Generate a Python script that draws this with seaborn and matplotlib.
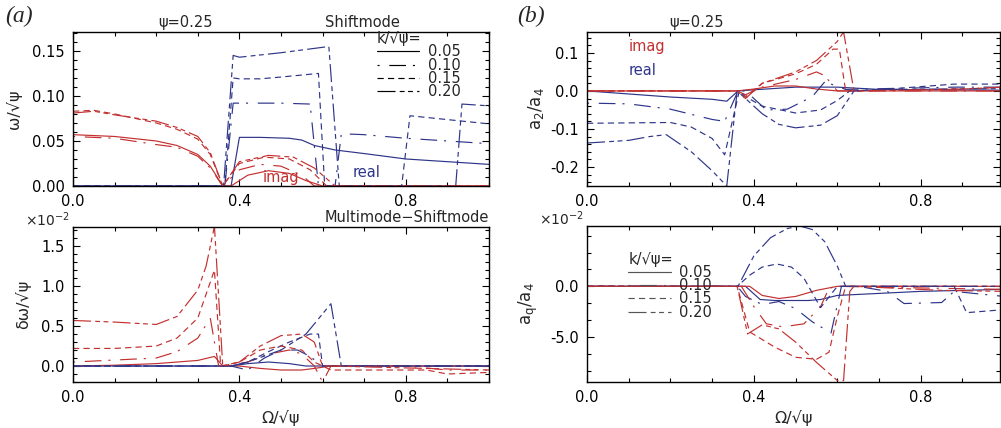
import numpy as np
import pandas as pd
import matplotlib
matplotlib.use("Agg")
import matplotlib.pyplot as plt
from matplotlib.lines import Line2D
from matplotlib.ticker import MultipleLocator, FormatStrFormatter, FixedLocator
import seaborn as sns

sns.set_theme(style="ticks")
plt.rcParams['font.family'] = ['DejaVu Sans']
plt.rcParams['mathtext.fontset'] = 'dejavusans'
plt.rcParams['lines.scale_dashes'] = False
plt.rcParams['axes.unicode_minus'] = True

# ---------------- data ----------------
K_LABELS = ["0.05", "0.10", "0.15", "0.20"]

# (a) top: omega/sqrt(psi)
om_imag = {
    "0.05": ([0, 0.1, 0.2, 0.25, 0.3, 0.33, 0.36, 0.38, 0.42, 0.47, 0.52, 0.56, 0.6, 1.0],
             [0.057, 0.055, 0.050, 0.045, 0.035, 0.022, 0, 0, 0.012, 0.017, 0.014, 0.006, 0, 0]),
    "0.10": ([0, 0.1, 0.2, 0.25, 0.3, 0.33, 0.36, 0.40, 0.45, 0.5, 0.55, 0.58, 1.0],
             [0.055, 0.053, 0.046, 0.043, 0.033, 0.020, 0, 0.018, 0.024, 0.022, 0.012, 0, 0]),
    "0.15": ([0, 0.05, 0.1, 0.2, 0.25, 0.3, 0.33, 0.36, 0.40, 0.46, 0.52, 0.57, 0.61, 1.0],
             [0.083, 0.084, 0.080, 0.070, 0.063, 0.052, 0.035, 0, 0.025, 0.032, 0.030, 0.018, 0, 0]),
    "0.20": ([0, 0.05, 0.1, 0.2, 0.25, 0.3, 0.33, 0.36, 0.40, 0.47, 0.53, 0.58, 0.63, 1.0],
             [0.081, 0.083, 0.079, 0.072, 0.065, 0.055, 0.037, 0, 0.027, 0.034, 0.032, 0.020, 0, 0]),
}
om_real = {
    "0.05": ([0, 0.38, 0.40, 0.45, 0.52, 0.55, 0.58, 0.63, 0.7, 0.8, 0.9, 1.0],
             [0, 0, 0.054, 0.054, 0.053, 0.051, 0.045, 0.040, 0.036, 0.030, 0.027, 0.024]),
    "0.10": ([0, 0.365, 0.385, 0.4, 0.5, 0.57, 0.59, 0.63, 0.645, 0.7, 0.8, 0.9, 1.0],
             [0, 0, 0.092, 0.092, 0.092, 0.091, 0, 0, 0.058, 0.057, 0.053, 0.050, 0.047]),
    "0.15": ([0, 0.365, 0.385, 0.4, 0.45, 0.5, 0.59, 0.605, 0.79, 0.81, 1.0],
             [0, 0, 0.120, 0.119, 0.119, 0.121, 0.125, 0, 0, 0.078, 0.069]),
    "0.20": ([0, 0.362, 0.385, 0.40, 0.5, 0.6, 0.615, 0.64, 0.92, 0.935, 1.0],
             [0, 0, 0.145, 0.143, 0.148, 0.154, 0.155, 0, 0, 0.091, 0.089]),
}

# (a) bottom: delta omega / sqrt(psi)  [x 1e-2]
dw_imag = {
    "0.05": ([0, 0.1, 0.2, 0.3, 0.34, 0.36, 0.4, 0.45, 0.5, 0.55, 0.58, 0.62, 1.0],
             [0, 0.01, 0.03, 0.07, 0.12, 0, 0, -0.03, -0.05, -0.05, -0.03, 0, 0]),
    "0.10": ([0, 0.2, 0.25, 0.3, 0.33, 0.35, 0.37, 0.42, 0.47, 0.52, 0.55, 0.58, 0.6, 0.62, 0.8, 0.9, 1.0],
             [0.05, 0.10, 0.18, 0.35, 0.60, 0, 0, 0.05, 0.15, 0.20, 0.15, 0.0, -0.2, 0, 0, -0.05, -0.05]),
    "0.15": ([0, 0.1, 0.2, 0.25, 0.3, 0.33, 0.34, 0.355, 0.4, 0.45, 0.5, 0.55, 0.58, 0.62, 0.85, 0.9, 1.0],
             [0.22, 0.22, 0.25, 0.35, 0.60, 1.05, 1.20, 0, 0.05, 0.20, 0.25, 0.20, 0.05, -0.05, -0.05, -0.10, -0.08]),
    "0.20": ([0, 0.1, 0.2, 0.25, 0.3, 0.32, 0.34, 0.36, 0.4, 0.45, 0.5, 0.55, 0.58, 0.6, 0.62, 1.0],
             [0.57, 0.55, 0.52, 0.62, 0.95, 1.25, 1.75, 0, 0.05, 0.25, 0.38, 0.40, 0.30, 0, 0, -0.05]),
}
dw_real = {
    "0.05": ([0, 0.38, 0.42, 0.47, 0.52, 0.56, 0.6, 1.0],
             [0, 0, 0.03, 0.05, 0.03, 0.0, 0, 0]),
    "0.10": ([0, 0.38, 0.42, 0.46, 0.5, 0.54, 0.57, 0.6, 1.0],
             [0, 0, -0.05, 0.10, 0.20, 0.20, 0.12, 0, 0]),
    "0.15": ([0, 0.38, 0.42, 0.47, 0.52, 0.57, 0.59, 0.6, 1.0],
             [0, 0, 0.05, 0.18, 0.30, 0.40, 0.40, 0, 0]),
    "0.20": ([0, 0.38, 0.42, 0.5, 0.56, 0.62, 0.645, 1.0],
             [0, 0, 0.05, 0.20, 0.40, 0.78, 0, 0]),
}

# (b) top: a2/a4
a2_imag = {
    "0.05": ([0, 0.36, 0.4, 0.45, 0.5, 0.55, 0.6, 1.0],
             [0, 0, 0.005, 0.013, 0.013, 0.005, 0, 0]),
    "0.10": ([0, 0.36, 0.38, 0.42, 0.5, 0.55, 0.57, 0.6, 1.0],
             [0, 0, -0.01, 0.01, 0.03, 0.05, 0.04, 0, 0]),
    "0.15": ([0, 0.36, 0.38, 0.42, 0.5, 0.55, 0.59, 0.605, 0.62, 0.9, 1.0],
             [0, 0, -0.015, 0.02, 0.045, 0.07, 0.11, 0.11, 0, 0.005, 0.01]),
    "0.20": ([0, 0.36, 0.38, 0.42, 0.5, 0.55, 0.6, 0.615, 0.64, 0.9, 1.0],
             [0, 0, -0.02, 0.02, 0.05, 0.08, 0.13, 0.155, 0, 0.005, 0.01]),
}
a2_real = {
    "0.05": ([0, 0.1, 0.2, 0.3, 0.335, 0.362, 0.4, 0.5, 0.6, 0.7, 1.0],
             [0, -0.008, -0.016, -0.022, -0.027, 0, 0.003, 0.010, 0.010, 0.004, 0.002]),
    "0.10": ([0, 0.1, 0.2, 0.3, 0.33, 0.362, 0.38, 0.43, 0.48, 0.54, 0.57, 0.62, 0.88, 1.0],
             [-0.032, -0.034, -0.048, -0.075, -0.080, 0, 0.0, -0.05, -0.048, -0.015, 0.024, 0.004, 0.010, 0.010]),
    "0.15": ([0, 0.1, 0.2, 0.25, 0.3, 0.33, 0.365, 0.38, 0.42, 0.5, 0.56, 0.6, 0.63, 0.7, 0.88, 1.0],
             [-0.085, -0.084, -0.083, -0.095, -0.125, -0.168, 0, -0.015, -0.04, -0.058, -0.05, -0.025, 0, 0.003, 0.018, 0.018]),
    "0.20": ([0, 0.1, 0.15, 0.19, 0.25, 0.3, 0.335, 0.36, 0.38, 0.42, 0.46, 0.5, 0.56, 0.6, 0.64, 0.7, 1.0],
             [-0.137, -0.130, -0.120, -0.115, -0.160, -0.210, -0.250, 0, -0.02, -0.06, -0.088, -0.097, -0.09, -0.065, 0, 0.004, 0.006]),
}

# (b) bottom: aq/a4  [x 1e-2]
aq_imag = {
    "0.05": ([0, 0.39, 0.42, 0.46, 0.5, 0.55, 0.6, 1.0],
             [0, 0, -0.9, -1.2, -1.0, -0.4, 0, 0]),
    "0.10": ([0, 0.37, 0.4, 0.43, 0.47, 0.52, 0.56, 0.58, 0.6, 0.85, 1.0],
             [0, 0, -2.0, -3.7, -4.0, -3.7, -2.0, -0.2, 0, -0.2, -0.3]),
    "0.15": ([0, 0.36, 0.39, 0.45, 0.5, 0.55, 0.58, 0.6, 0.62, 1.0],
             [0, 0, -4.5, -6.0, -7.0, -7.2, -6.5, -3.0, 0, 0]),
    "0.20": ([0, 0.36, 0.385, 0.42, 0.46, 0.5, 0.55, 0.6, 0.615, 0.63, 0.64, 0.85, 1.0],
             [0, 0, -4.7, -3.8, -4.2, -5.5, -7.5, -9.3, -9.3, -0.5, 0, -0.4, -0.5]),
}
aq_real = {
    "0.05": ([0, 0.38, 0.415, 0.45, 0.53, 0.56, 0.6, 0.7, 0.8, 0.9, 1.0],
             [0, 0, -1.3, -1.4, -1.4, -1.3, -0.9, -0.7, -0.5, -0.4, -0.3]),
    "0.10": ([0, 0.36, 0.38, 0.42, 0.46, 0.5, 0.54, 0.585, 0.61, 0.65, 0.72, 0.76, 0.85, 0.88, 1.0],
             [0, 0, -1.0, -1.8, -1.5, -2.2, -3.5, -4.6, 0, 0, -0.5, -1.7, -1.6, -0.5, -1.0]),
    "0.15": ([0, 0.36, 0.39, 0.42, 0.455, 0.49, 0.52, 0.56, 0.6, 0.62, 0.88, 0.91, 1.0],
             [0, 0, 1.1, 1.9, 2.2, 1.9, 0.8, -2.1, 0, 0, 0, -2.6, -2.3]),
    "0.20": ([0, 0.362, 0.4, 0.44, 0.48, 0.51, 0.54, 0.57, 0.6, 0.62, 0.64, 1.0],
             [0, 0, 3.0, 4.8, 5.7, 5.95, 5.6, 4.4, 2.0, 0, 0, 0]),
}

# ---------------- styles ----------------
RED = "#c2302f"
BLUE = "#2e3589"
STYLES = {
    "0.05": "-",
    "0.10": (0, (1.5, 7, 12, 5)),
    "0.15": (0, (4.5, 3)),
    "0.20": (0, (13, 3, 3.5, 2.5, 3.5, 3)),
}
LW = 0.85
FS = 10.5

fig = plt.figure(figsize=(10.01, 4.28), dpi=100)
W, H = 1001.0, 428.0
ax_a1 = fig.add_axes([73 / W, 1 - 186 / H, 416 / W, 154 / H])
ax_a2 = fig.add_axes([73 / W, 1 - 382 / H, 416 / W, 155 / H])
ax_b1 = fig.add_axes([587 / W, 1 - 186 / H, 413 / W, 154 / H])
ax_b2 = fig.add_axes([587 / W, 1 - 382 / H, 413 / W, 156 / H])


def draw(ax, imag, real):
    for k in K_LABELS:
        for data, col in ((real, BLUE), (imag, RED)):
            xs, ys = data[k]
            df = pd.DataFrame({"x": xs, "y": ys})
            sns.lineplot(data=df, x="x", y="y", ax=ax, color=col, lw=LW,
                         linestyle=STYLES[k], sort=False, estimator=None,
                         errorbar=None, legend=False)


draw(ax_a1, om_imag, om_real)
draw(ax_a2, dw_imag, dw_real)
draw(ax_b1, a2_imag, a2_real)
draw(ax_b2, aq_imag, aq_real)

for ax in (ax_a1, ax_a2, ax_b1, ax_b2):
    ax.set_xlabel("")
    ax.set_ylabel("")
    ax.xaxis.set_major_locator(FixedLocator([0.0, 0.4, 0.8]))
    ax.xaxis.set_minor_locator(MultipleLocator(0.1))
    ax.xaxis.set_major_formatter(FormatStrFormatter("%.1f"))
    ax.tick_params(which="both", direction="in", top=True, right=True,
                   labelsize=FS, colors="black", width=0.8, pad=6)
    ax.tick_params(which="major", length=5)
    ax.tick_params(which="minor", length=3)
    for s in ax.spines.values():
        s.set_linewidth(1.0)
        s.set_color("black")
        s.set_visible(True)

ax_a1.set_xlim(0, 1.0)
ax_a2.set_xlim(0, 1.0)
ax_b1.set_xlim(0, 0.99)
ax_b2.set_xlim(0, 0.99)

ax_a1.set_ylim(0, 0.171)
ax_a1.yaxis.set_major_locator(MultipleLocator(0.05))
ax_a1.yaxis.set_minor_locator(MultipleLocator(0.01))
ax_a1.yaxis.set_major_formatter(FormatStrFormatter("%.2f"))

ax_a2.set_ylim(-0.2, 1.74)
ax_a2.yaxis.set_major_locator(MultipleLocator(0.5))
ax_a2.yaxis.set_minor_locator(MultipleLocator(0.1))
ax_a2.yaxis.set_major_formatter(FormatStrFormatter("%.1f"))

ax_b1.set_ylim(-0.25, 0.155)
ax_b1.yaxis.set_major_locator(MultipleLocator(0.1))
ax_b1.yaxis.set_minor_locator(MultipleLocator(0.02))
ax_b1.yaxis.set_major_formatter(FormatStrFormatter("%.1f"))

ax_b2.set_ylim(-9.44, 5.95)
ax_b2.yaxis.set_major_locator(FixedLocator([-5.0, 0.0]))
ax_b2.yaxis.set_minor_locator(FixedLocator([-25 / 3, -20 / 3, -10 / 3, -5 / 3, 5 / 3, 10 / 3, 5.0]))
ax_b2.yaxis.set_major_formatter(FormatStrFormatter("%.1f"))

# axis labels
LFS = 11.5
ax_a1.set_ylabel("ω/√ψ", fontsize=LFS, labelpad=7)
ax_a2.set_ylabel("δω/√ψ", fontsize=LFS, labelpad=7)
ax_b1.set_ylabel(r"$\mathregular{a_2/a_4}$", fontsize=LFS + 0.5, labelpad=3)
ax_b2.set_ylabel(r"$\mathregular{a_q/a_4}$", fontsize=LFS + 0.5, labelpad=7)
ax_a2.set_xlabel("Ω/√ψ", fontsize=LFS, labelpad=3)
ax_b2.set_xlabel("Ω/√ψ", fontsize=LFS, labelpad=3)

# multipliers
for ax in (ax_a2, ax_b2):
    ax.text(-0.008, 0.99, r"$\times\mathregular{10^{-2}}$", transform=ax.transAxes,
            ha="right", va="bottom", fontsize=FS - 0.5)

# titles / annotations
ax_a1.text(0.27, 1.01, "ψ=0.25", transform=ax_a1.transAxes, ha="center", va="bottom", fontsize=FS)
ax_a1.text(0.695, 1.015, "Shiftmode", transform=ax_a1.transAxes, ha="center", va="bottom", fontsize=FS)
ax_a2.text(1.0, 1.01, "Multimode−Shiftmode", transform=ax_a2.transAxes, ha="right", va="bottom", fontsize=FS)
ax_b1.text(0.264, 1.01, "ψ=0.25", transform=ax_b1.transAxes, ha="center", va="bottom", fontsize=FS)

ax_a1.text(0.50, 0.009, "imag", color=RED, ha="center", va="center", fontsize=FS)
ax_a1.text(0.705, 0.0145, "real", color=BLUE, ha="center", va="center", fontsize=FS)
ax_b1.text(0.10, 0.116, "imag", color=RED, ha="left", va="center", fontsize=FS)
ax_b1.text(0.10, 0.053, "real", color=BLUE, ha="left", va="center", fontsize=FS)

fig.text(5 / W, 1 - 16 / H, "(a)", family="Liberation Serif", style="italic", fontsize=17, va="center", ha="left")
fig.text(517 / W, 1 - 16 / H, "(b)", family="Liberation Serif", style="italic", fontsize=17, va="center", ha="left")


def k_legend(ax, color, anchor):
    handles = [Line2D([], [], color=color, lw=LW, linestyle=STYLES[k]) for k in K_LABELS]
    leg = ax.legend(handles, K_LABELS, title="k/√ψ=", loc="upper left", bbox_to_anchor=anchor,
                    frameon=False, fontsize=FS, title_fontsize=FS, handlelength=2.9,
                    handletextpad=0.6, labelspacing=-0.12, borderpad=0, borderaxespad=0,
                    alignment="left")
    return leg


k_legend(ax_a1, "black", (0.731, 1.005))
k_legend(ax_b2, "#555555", (0.10, 0.835))

fig.savefig("out.png", dpi=100)
